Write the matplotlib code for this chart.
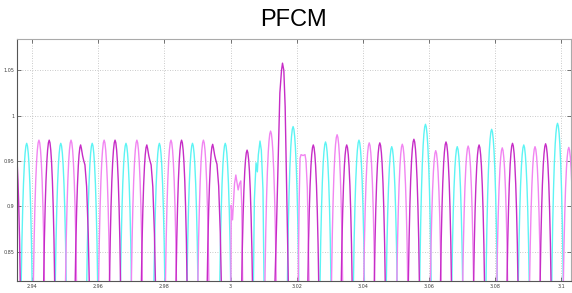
import matplotlib
matplotlib.use("Agg")
import matplotlib.pyplot as plt
import numpy as np

# ---- data (time in s, value in pu) ----
cyan_peak_t = [2.9384, 2.9487, 2.9582, 2.9684, 2.9785, 2.9885, 2.9984,
               3.0189, 3.0287, 3.0388, 3.0487, 3.0589, 3.0685, 3.0789, 3.0886, 3.0988]
cyan_peak_v = [0.9695, 0.9695, 0.9695, 0.9695, 0.9695, 0.9695, 0.9695,
               0.988, 0.971, 0.973, 0.9658, 0.9905, 0.9658, 0.985, 0.9677, 0.9916]
# disturbed cyan peak near 3.008 (shoulder on the rising side)
cyan_extra_t = [3.0066, 3.0072, 3.0077, 3.0081, 3.0084, 3.0089, 3.0093, 3.0098, 3.0104]
cyan_extra_v = [0.72, 0.907, 0.948, 0.938, 0.957, 0.972, 0.962, 0.918, 0.72]

pink_peak_t = [2.9421, 2.9518, 2.9618, 2.9717, 2.9820, 2.9918,
               3.0121, 3.0322, 3.0419, 3.0519, 3.0620, 3.0718, 3.0821, 3.0920, 3.1022]
pink_peak_v = [0.973, 0.973, 0.973, 0.973, 0.973, 0.973,
               0.983, 0.979, 0.970, 0.9685, 0.9614, 0.9665, 0.9645, 0.9658, 0.965]
# double hump right at 3.0 and the flat-topped peak near 3.022
pink_extra_t = [3.0000, 3.0002, 3.0006, 3.0012, 3.0016, 3.0020, 3.0023, 3.0027,
                3.0031, 3.0034, 3.0037, 3.0040,
                3.0202, 3.0207, 3.0210, 3.0213, 3.0219, 3.0225, 3.0228, 3.0232,
                3.0238, 3.0241]
pink_extra_v = [0.72, 0.901, 0.885, 0.925, 0.9345, 0.925, 0.918, 0.925,
                0.928, 0.90, 0.80, 0.72,
                0.72, 0.90, 0.953, 0.957, 0.956, 0.957, 0.95, 0.92,
                0.80, 0.72]

mag_peak_t = [2.9348, 2.9452, 2.9651, 2.9852, 3.0050,
              3.0250, 3.0351, 3.0451, 3.0554, 3.0651, 3.0751, 3.0852, 3.0952]
mag_peak_v = [0.973, 0.973, 0.973, 0.973, 0.962,
              0.9677, 0.9677, 0.970, 0.974, 0.971, 0.9677, 0.9695, 0.969]
# peaks with a shoulder on the falling side
mag_sh_t = [2.9547, 2.9747, 2.9946]
mag_sh_v = [0.9677, 0.9677, 0.9684]
# the big overshoot after the fault
mag_extra_t = [3.0130, 3.0133, 3.0139, 3.0144, 3.0149, 3.0154, 3.0157, 3.0161,
               3.0165, 3.0169, 3.0174, 3.0178]
mag_extra_v = [0.70, 0.80, 0.88, 0.952, 1.025, 1.050, 1.058, 1.050,
               1.01, 0.93, 0.83, 0.72]

# shape of one peak (half width offsets in s, drop below the peak value)
half_off = [0.00024, 0.00048, 0.0007, 0.00097, 0.00121, 0.00145, 0.00166, 0.00211]
half_drop = [0.003, 0.011, 0.023, 0.045, 0.073, 0.11, 0.155, 0.3]
sh_off = [0.00024, 0.0006, 0.00091, 0.0013, 0.00181, 0.0023, 0.0026, 0.003]
sh_drop = [0.004, 0.012, 0.017, 0.022, 0.046, 0.098, 0.15, 0.3]

x_ticks = [2.94, 2.96, 2.98, 3.0, 3.02, 3.04, 3.06, 3.08, 3.1]
x_labels = ["2.94", "2.96", "2.98", "3", "3.02", "3.04", "3.06", "3.08", "3.1"]
y_ticks = [0.85, 0.9, 0.95, 1.0, 1.05]
y_labels = ["0.85", "0.9", "0.95", "1", "1.05"]


def build(peak_t, peak_v, extra_t=(), extra_v=(), sh_t=(), sh_v=()):
    t, v = [], []
    left_o = [-o for o in half_off[::-1]]
    left_d = half_drop[::-1]
    for pt, pv in zip(peak_t, peak_v):
        for o, d in zip(left_o + [0] + half_off, left_d + [0] + half_drop):
            t.append(pt + o)
            v.append(pv - d)
    for pt, pv in zip(sh_t, sh_v):
        for o, d in zip(left_o + [0] + sh_off, left_d + [0] + sh_drop):
            t.append(pt + o)
            v.append(pv - d)
    t += list(extra_t)
    v += list(extra_v)
    t = np.array(t)
    v = np.array(v)
    idx = np.argsort(t)
    return t[idx], v[idx]


fig = plt.figure(figsize=(5.72, 2.93), dpi=100)
ax = fig.add_axes([0.0297, 0.041, 0.9683, 0.826])

tc, vc = build(cyan_peak_t, cyan_peak_v, cyan_extra_t, cyan_extra_v)
tp, vp = build(pink_peak_t, pink_peak_v, pink_extra_t, pink_extra_v)
tm, vm = build(mag_peak_t, mag_peak_v, mag_extra_t, mag_extra_v, mag_sh_t, mag_sh_v)

ax.plot(tc, vc, color="#5cf4f4", linewidth=1.0)
ax.plot(tp, vp, color="#f184f1", linewidth=1.0)
ax.plot(tm, vm, color="#c62cc6", linewidth=1.0)

ax.set_xlim(2.93547, 3.10283)
ax.set_ylim(0.8175, 1.0847)
ax.set_xticks(x_ticks)
ax.set_xticklabels(x_labels)
ax.set_yticks(y_ticks)
ax.set_yticklabels(y_labels)
ax.tick_params(direction="in", length=3, width=0.5, labelsize=3.5, pad=2,
               colors="#404040", top=True, right=True)
ax.grid(True, color="#b8b8b8", linestyle=(0, (1, 2)), linewidth=0.6)

for side in ["left", "bottom"]:
    ax.spines[side].set_color("#555555")
for side in ["top", "right"]:
    ax.spines[side].set_color("#aaaaaa")
for s in ax.spines.values():
    s.set_linewidth(0.8)

ax.set_title("PFCM", fontsize=17, family="Liberation Sans", pad=9)

fig.savefig("out.png", dpi=100)
